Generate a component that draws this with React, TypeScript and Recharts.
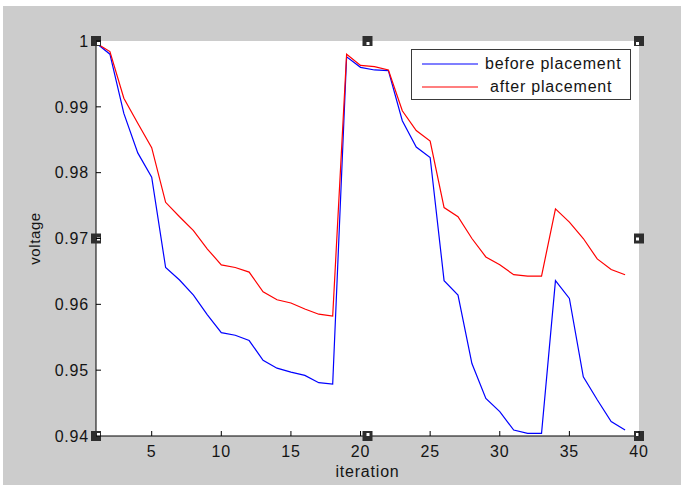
import React from 'react';
import { LineChart, Line, XAxis, YAxis, CartesianGrid, Legend, ReferenceDot } from 'recharts';

const iterations = [
  1, 2, 3, 4, 5, 6, 7, 8, 9, 10, 11, 12, 13, 14, 15, 16, 17, 18, 19, 20,
  21, 22, 23, 24, 25, 26, 27, 28, 29, 30, 31, 32, 33, 34, 35, 36, 37, 38, 39,
];

const beforePlacement = [
  0.9997, 0.998, 0.989, 0.983, 0.9793, 0.9656, 0.9637, 0.9614, 0.9584, 0.9557,
  0.9553, 0.9545, 0.9515, 0.9503, 0.9497, 0.9492, 0.9481, 0.9479, 0.9976, 0.996,
  0.9956, 0.9955, 0.9879, 0.9839, 0.9823, 0.9636, 0.9614, 0.951, 0.9457, 0.9437,
  0.9409, 0.9404, 0.9404, 0.9636, 0.9609, 0.949, 0.9455, 0.9422, 0.9409,
];

const afterPlacement = [
  0.9997, 0.9984, 0.9913, 0.9875, 0.9838, 0.9755, 0.9733, 0.9712, 0.9684, 0.966,
  0.9656, 0.9649, 0.9619, 0.9607, 0.9602, 0.9593, 0.9585, 0.9582, 0.998, 0.9963,
  0.9961, 0.9956, 0.9894, 0.9864, 0.9848, 0.9747, 0.9733, 0.97, 0.9672, 0.966,
  0.9645, 0.9643, 0.9643, 0.9745, 0.9725, 0.97, 0.9669, 0.9653, 0.9645,
];

const xTicks = [5, 10, 15, 20, 25, 30, 35, 40];
const yTicks = [0.94, 0.95, 0.96, 0.97, 0.98, 0.99, 1];

const title = 'Voltage profiles of 39 bus system at light (50%) load';
const xLabel = 'iteration';
const yLabel = 'voltage';
const series = [
  { key: 'before', name: 'before placement', color: '#0000ff' },
  { key: 'after', name: 'after placement', color: '#ff0000' },
];

const X_MIN = 1;
const X_MAX = 40;
const Y_MIN = 0.94;
const Y_MAX = 1;

const data = iterations.map((it, i) => ({
  iteration: it,
  before: beforePlacement[i],
  after: afterPlacement[i],
}));

const FONT = '"Liberation Sans", Arial, sans-serif';
const TXT = '#141414';
const TICK = 5;

const BottomTick = (p: any) => (
  <g>
    <line x1={p.x} y1={p.y} x2={p.x} y2={p.y - TICK} stroke="#000" />
    <text x={p.x} y={p.y + 21} textAnchor="middle" fontSize={16} letterSpacing={0.8} fontFamily={FONT} fill={TXT}>
      {p.payload.value}
    </text>
  </g>
);
const TopTick = (p: any) => <line x1={p.x} y1={p.y} x2={p.x} y2={p.y + TICK} stroke="#000" />;
const LeftTick = (p: any) => (
  <g>
    <line x1={p.x} y1={p.y} x2={p.x + TICK} y2={p.y} stroke="#000" />
    <text x={p.x - 7} y={p.y} dy="0.36em" textAnchor="end" fontSize={16} letterSpacing={0.8} fontFamily={FONT} fill={TXT}>
      {String(p.payload.value)}
    </text>
  </g>
);
const RightTick = (p: any) => <line x1={p.x} y1={p.y} x2={p.x - TICK} y2={p.y} stroke="#000" />;

// matlab-style selection handles, white notch faces the plot interior
const makeHandle = (dx: number, dy: number) => (p: any) => (
  <g>
    <rect x={p.cx - 5} y={p.cy - 5} width={10} height={10} fill="#2e2e2e" />
    <rect x={p.cx - 1 + dx * 2} y={p.cy - 1 + dy * 2} width={3} height={3} fill="#fff" />
  </g>
);
const midX = (X_MIN + X_MAX) / 2;
const midY = (Y_MIN + Y_MAX) / 2;
const handles: [number, number, number, number][] = [
  [X_MIN, Y_MAX, 1, 1], [midX, Y_MAX, 0, 1], [X_MAX, Y_MAX, -1, 1],
  [X_MIN, midY, 1, 0], [X_MAX, midY, -1, 0],
  [X_MIN, Y_MIN, 1, -1], [midX, Y_MIN, 0, -1], [X_MAX, Y_MIN, -1, -1],
];

const LegendBox = () => (
  <div
    style={{
      width: 218,
      height: 49,
      border: '1px solid #3a3a3a',
      background: '#fff',
      position: 'relative',
      fontFamily: FONT,
      fontSize: 16,
      letterSpacing: 0.8,
      color: TXT,
    }}
  >
    {series.map((s, i) => (
      <div key={s.key} style={{ position: 'absolute', left: 0, top: 4 + i * 23, height: 20, display: 'flex', alignItems: 'center' }}>
        <svg width={70} height={20}>
          <line x1={10} y1={10} x2={66} y2={10} stroke={s.color} strokeWidth={1.2} />
        </svg>
        <span style={{ marginLeft: i === 0 ? 3 : 8, whiteSpace: 'nowrap' }}>{s.name}</span>
      </div>
    ))}
  </div>
);

export default function App() {
  return (
    <div style={{ position: 'absolute', left: 0, top: 0, width: 681, height: 485, background: '#fff' }}>
      <div style={{ position: 'absolute', left: 3, top: 6, right: 0, bottom: 0, background: '#cccccc' }} />
      <div style={{ position: 'absolute', left: 0, top: 0 }}>
        <LineChart width={681} height={485} data={data} margin={{ top: 41, right: 42, bottom: 0, left: 0 }}>
          <CartesianGrid horizontal={false} vertical={false} fill="#fff" />
          <XAxis
            dataKey="iteration"
            type="number"
            domain={[X_MIN, X_MAX]}
            ticks={xTicks}
            height={49}
            tickSize={0}
            tickMargin={0}
            tick={BottomTick}
            axisLine={{ stroke: '#000' }}
            allowDataOverflow
            label={{
              content: (props: any) => {
                const vb = props.viewBox;
                return (
                  <text x={vb.x + vb.width / 2} y={vb.y + 41} textAnchor="middle" fontSize={16} letterSpacing={0.8} fontFamily={FONT} fill={TXT}>
                    {xLabel}
                  </text>
                );
              },
            }}
          />
          <XAxis
            xAxisId="top"
            orientation="top"
            dataKey="iteration"
            type="number"
            domain={[X_MIN, X_MAX]}
            ticks={xTicks}
            height={0}
            tickSize={0}
            tickMargin={0}
            tick={TopTick}
            axisLine={{ stroke: '#000' }}
            allowDataOverflow
            label={{
              content: (props: any) => {
                const vb = props.viewBox;
                return (
                  <text x={vb.x + vb.width / 2} y={vb.y - 14} textAnchor="middle" fontSize={16} letterSpacing={0.8} fontFamily={FONT} fill={TXT}>
                    {title}
                  </text>
                );
              },
            }}
          />
          <YAxis
            type="number"
            domain={[Y_MIN, Y_MAX]}
            ticks={yTicks}
            width={96}
            tickSize={0}
            tickMargin={0}
            tick={LeftTick}
            axisLine={{ stroke: '#000' }}
            allowDataOverflow
            label={{
              content: (props: any) => {
                const vb = props.viewBox;
                const cx = 34;
                const cy = vb.y + vb.height / 2;
                return (
                  <text x={cx} y={cy} transform={`rotate(-90, ${cx}, ${cy})`} textAnchor="middle" dominantBaseline="central" fontSize={15} letterSpacing={0.6} fontFamily={FONT} fill={TXT}>
                    {yLabel}
                  </text>
                );
              },
            }}
          />
          <YAxis
            yAxisId="right"
            orientation="right"
            type="number"
            domain={[Y_MIN, Y_MAX]}
            ticks={yTicks}
            width={0}
            tickSize={0}
            tickMargin={0}
            tick={RightTick}
            axisLine={{ stroke: '#000' }}
            allowDataOverflow
          />
          {series.map((s) => (
            <Line
              key={s.key}
              type="linear"
              dataKey={s.key}
              name={s.name}
              stroke={s.color}
              strokeWidth={1.2}
              dot={false}
              isAnimationActive={false}
            />
          ))}
          {handles.map(([hx, hy, dx, dy], i) => (
            <ReferenceDot key={i} x={hx} y={hy} ifOverflow="visible" shape={makeHandle(dx, dy)} />
          ))}
          <Legend
            layout="horizontal"
            verticalAlign="middle"
            align="center"
            wrapperStyle={{ position: 'absolute', left: 411, top: 49, width: 220, height: 51 }}
            content={() => <LegendBox />}
          />
        </LineChart>
      </div>
    </div>
  );
}
